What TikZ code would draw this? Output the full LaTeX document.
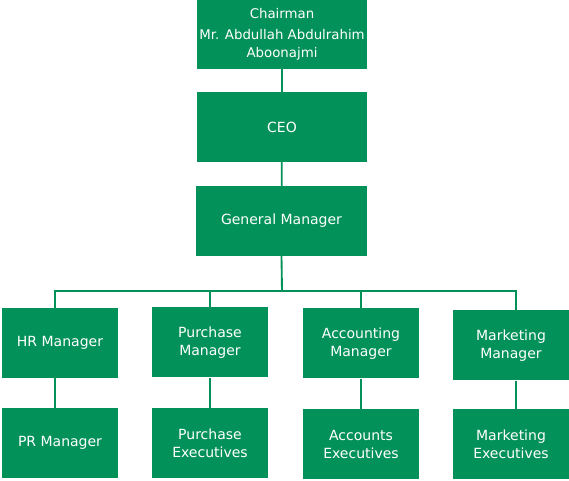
\documentclass[tikz,border=0pt]{standalone}
\usepackage{fontspec}
\setmainfont{DejaVu Sans}
\usepackage{tikz}
\usetikzlibrary{positioning,calc}
\definecolor{orggreen}{RGB}{3,145,90}

\begin{document}
\begin{tikzpicture}[x=0.75pt,y=-0.75pt]
        \tikzset{
            topbox/.style={fill=orggreen, text=white, minimum width=128pt, minimum height=52pt, align=center, inner sep=1pt, font=\fontsize{10.5}{13.5}\selectfont},
            unitbox/.style={fill=orggreen, text=white, minimum width=87pt, minimum height=52.5pt, align=center, inner sep=1pt, font=\fontsize{10.5}{13.5}\selectfont},
            link/.style={orggreen, line width=1.4pt}
        }
        \useasboundingbox (0,0) rectangle (569,481);
        \node[topbox, font=\fontsize{10}{13.5}\selectfont] (chair) at (282,34.5) {Chairman\\[2pt]Mr. Abdullah Abdulrahim\\Aboonajmi};
        \node[topbox] (ceo) at (282,127) {CEO};
        \node[topbox] (gm) at (281.5,221) {General Manager};
        \node[unitbox] (hr) at (60,343) {HR Manager};
        \node[unitbox] (pm) at (210,342.5) {Purchase\\Manager};
        \node[unitbox] (am) at (361,343.5) {Accounting\\Manager};
        \node[unitbox] (mm) at (511,345.5) {Marketing\\Manager};
        \node[unitbox] (pr) at (60,443) {PR Manager};
        \node[unitbox] (pe) at (210,443) {Purchase\\Executives};
        \node[unitbox] (ae) at (361,444) {Accounts\\Executives};
        \node[unitbox] (me) at (511,444) {Marketing\\Executives};
        \coordinate (bus) at (282,291);
        \draw[link] (chair) -- (ceo);
        \draw[link] (ceo) -- (gm);
        \draw[link] (gm.south) -- (bus);
        \draw[link] (bus) -| ([xshift=-4pt]hr.north);
        \draw[link] (bus) -| (pm.north);
        \draw[link] (bus) -| (am.north);
        \draw[link] (bus) -| ([xshift=4pt]mm.north);
        \draw[link] ([xshift=-4pt]hr.south) -- ([xshift=-4pt]pr.north);
        \draw[link] (pm) -- (pe);
        \draw[link] (am) -- (ae);
        \draw[link] ([xshift=4pt]mm.south) -- ([xshift=4pt]me.north);
    \end{tikzpicture}
\end{document}
